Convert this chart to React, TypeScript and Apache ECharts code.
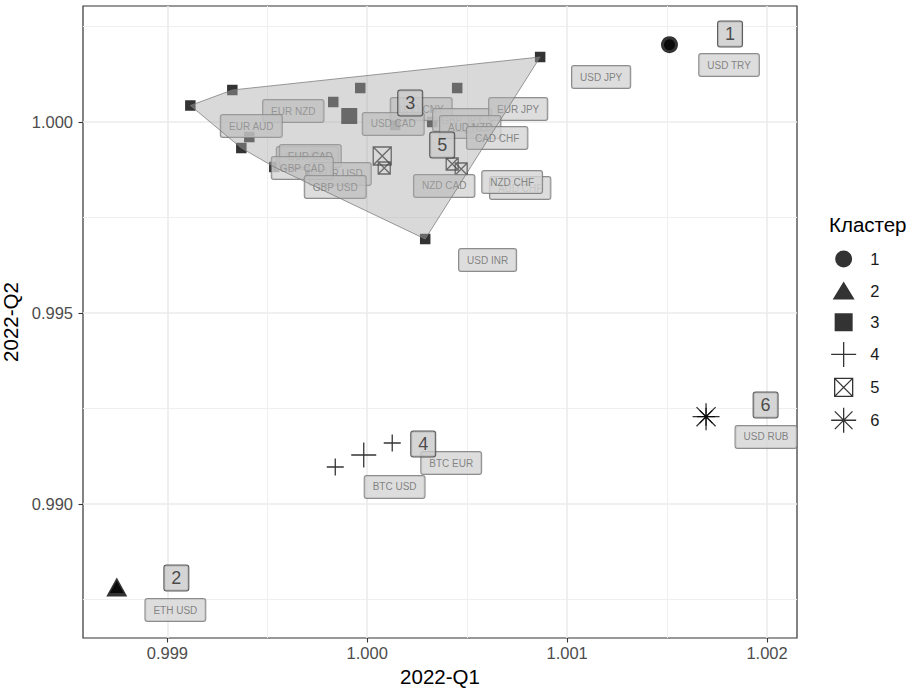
import React, { useEffect, useRef } from "react";
import * as echarts from "echarts";

// ---------- data ----------
const pairs = [
  "USD TRY", "ETH USD", "USD RUB", "BTC USD", "BTC EUR",
  "EUR GBP", "EUR CAD", "EUR USD", "GBP CAD", "GBP USD",
  "EUR NZD", "EUR AUD", "USD CNY", "USD CAD", "GBP JPY",
  "EUR JPY", "AUD NZD", "CAD CHF", "NZD CAD", "AUD CHF",
  "NZD CHF", "USD JPY", "USD INR",
];
const q1 = [
  1.001512, 0.998747, 1.001695, 0.99984, 1.000125,
  0.99937, 0.99974, 1.000085, 0.999535, 0.999715,
  0.99983, 0.99941, 1.000325, 1.00014, 0.999965,
  1.00045, 1.000515, 0.999115, 1.000425, 0.999325,
  1.00047, 1.000865, 1.00029,
];
const q2 = [
  1.002024, 0.987827, 0.992285, 0.990969, 0.991597,
  0.999319, 0.999136, 0.998796, 0.998822, 0.998691,
  1.000524, 0.999607, 1.0, 0.999921, 1.00089,
  1.00089, 0.999843, 1.000432, 0.998901, 1.000838,
  0.99877, 1.001702, 0.996937,
];
const clusterOf = [
  "1", "2", "6", "4", "4",
  "3", "3", "5", "3", "3",
  "3", "3", "3", "3", "3",
  "3", "3", "3", "5", "3",
  "5", "3", "3",
];
// repelled label positions (data units)
const labelQ1 = [
  1.00181, 0.99904, 1.001995, 1.000137, 1.00042,
  0.9997, 0.999715, 0.999865, 0.999675, 0.99984,
  0.99963, 0.99942, 1.00027, 1.00013, 1.000475,
  1.000755, 1.000515, 1.00065, 1.000385, 1.000765,
  1.000725, 1.00117, 1.000602,
];
const labelQ2 = [
  1.001492, 0.987225, 0.991754, 0.990445, 0.991073,
  0.999058, 0.99911, 0.998639, 0.998796, 0.998298,
  1.000288, 0.999895, 1.00034, 0.999948, 1.000052,
  1.00034, 0.999869, 0.999581, 0.998325, 0.998272,
  0.998429, 1.001178, 0.996387,
];

const clusterIds = ["1", "2", "3", "4", "5", "6"];
const centroidQ1 = [1.001512, 0.998747, 0.99991, 0.9999825, 1.000075, 1.001695];
const centroidQ2 = [1.002024, 0.987827, 1.000157, 0.991283, 0.99911, 0.992285];
const centroidLabelQ1 = [1.001815, 0.999045, 1.000215, 1.00028, 1.000375, 1.001993];
const centroidLabelQ2 = [1.002304, 0.988063, 1.000497, 0.991571, 0.999398, 0.992592];

const xRange = [0.998578, 1.00215];
const yRange = [0.986492, 1.003037];
const xTicks = [0.999, 1.0, 1.001, 1.002];
const xMinor = [0.9995, 1.0005, 1.0015];
const yTicks = [0.99, 0.995, 1.0];
const yMinor = [0.9875, 0.9925, 0.9975, 1.0025];

const hullCluster = "3";

// ---------- helpers ----------
const FONT = "'Liberation Sans', Arial, Helvetica, sans-serif";

function convexHull(pts: number[][]): number[][] {
  const p = pts.slice().sort((a, b) => a[0] - b[0] || a[1] - b[1]);
  const cross = (o: number[], a: number[], b: number[]) =>
    (a[0] - o[0]) * (b[1] - o[1]) - (a[1] - o[1]) * (b[0] - o[0]);
  const lower: number[][] = [];
  for (const q of p) {
    while (lower.length >= 2 && cross(lower[lower.length - 2], lower[lower.length - 1], q) <= 0) lower.pop();
    lower.push(q);
  }
  const upper: number[][] = [];
  for (let i = p.length - 1; i >= 0; i--) {
    const q = p[i];
    while (upper.length >= 2 && cross(upper[upper.length - 2], upper[upper.length - 1], q) <= 0) upper.pop();
    upper.push(q);
  }
  upper.pop();
  lower.pop();
  return lower.concat(upper);
}

const PLUS = "path://M0,5L10,5M5,0L5,10";
const BOXX = "path://M0,0L10,0L10,10L0,10ZM0,0L10,10M10,0L0,10";
const STAR = "path://M0,5L10,5M5,0L5,10M1.46,1.46L8.54,8.54M8.54,1.46L1.46,8.54";

const symbols: any[] = ["circle", "triangle", "rect", PLUS, BOXX, STAR];
const pointSizes: any[] = [11, [14, 12], 10.5, 17, 12, 18];
const centroidSizes: any[] = [17, [21, 19], 16, 25, 18, 27];
const filled = { color: "#000", borderWidth: 0 };
const stroked = { color: "transparent", borderColor: "#000", borderWidth: 1.3 };
const itemStyles: any[] = [filled, filled, filled, stroked, stroked, stroked];

const LB = "M0,0L0.01,0M34,25L33.99,25";
const legendIcons = [
  `path://${LB}M4,12.5A8.5,8.5,0,1,1,21,12.5A8.5,8.5,0,1,1,4,12.5Z`,
  `path://${LB}M12.5,3.5L23.5,21.5L1.5,21.5Z`,
  `path://${LB}M3.5,3.5L21.5,3.5L21.5,21.5L3.5,21.5Z`,
  `path://${LB}M0,12.5L25,12.5M12.5,0L12.5,25`,
  `path://${LB}M3.5,3.5L21.5,3.5L21.5,21.5L3.5,21.5ZM3.5,3.5L21.5,21.5M21.5,3.5L3.5,21.5`,
  `path://${LB}M0,12.5L25,12.5M12.5,0L12.5,25M3.66,3.66L21.34,21.34M21.34,3.66L3.66,21.34`,
];

export default function App() {
  const ref = useRef<HTMLDivElement>(null);

  useEffect(() => {
    if (!ref.current) return;
    const chart = echarts.init(ref.current, undefined, { renderer: "svg" });

    const hullPts = convexHull(
      pairs.map((_, i) => [q1[i], q2[i]]).filter((_, i) => clusterOf[i] === hullCluster)
    );

    const clusterSeries = clusterIds.map((cid, ci) => ({
      type: "scatter",
      name: cid,
      z: 2,
      silent: true,
      symbol: symbols[ci],
      symbolSize: pointSizes[ci],
      itemStyle: itemStyles[ci],
      data: [
        ...pairs
          .map((n, i) => (clusterOf[i] === cid ? { name: n, value: [q1[i], q2[i]] } : null))
          .filter(Boolean),
        { name: "centroid " + cid, value: [centroidQ1[ci], centroidQ2[ci]], symbolSize: centroidSizes[ci] },
      ],
    }));

    const option: any = {
      animation: false,
      backgroundColor: "#ffffff",
      textStyle: { fontFamily: FONT },
      title: {
        text: "Кластер",
        left: 829,
        top: 214,
        padding: 0,
        textStyle: { fontSize: 20.5, fontWeight: "normal", color: "#000", fontFamily: FONT },
      },
      legend: {
        orient: "vertical",
        left: 830.5,
        top: 246.5,
        padding: 0,
        itemWidth: 34,
        itemHeight: 25,
        itemGap: 6.6,
        selectedMode: false,
        textStyle: { fontSize: 16.5, color: "#1a1a1a", fontFamily: FONT },
        data: clusterIds.map((cid, ci) => ({
          name: cid,
          icon: legendIcons[ci],
          itemStyle: ci < 3 ? { color: "#000", borderWidth: 0 } : { color: "transparent", borderColor: "#000", borderWidth: 1.3 },
        })),
      },
      grid: {
        left: 83,
        top: 6,
        width: 714,
        height: 632,
        show: true,
        borderColor: "#333",
        borderWidth: 1.2,
        backgroundColor: "transparent",
        outerBoundsMode: "none",
      },
      xAxis: [
        {
          type: "value",
          min: xRange[0],
          max: xRange[1],
          position: "bottom",
          axisLine: { show: false },
          axisTick: { show: true, customValues: xTicks, length: 4.5, lineStyle: { color: "#333", width: 1.1 } },
          axisLabel: {
            customValues: xTicks,
            formatter: (v: number) => v.toFixed(3),
            color: "#4d4d4d",
            fontSize: 16.5,
            margin: 6,
            fontFamily: FONT,
          },
          splitLine: { show: true, lineStyle: { color: "#ebebeb", width: 1.6 } },
          name: "2022-Q1",
          nameLocation: "middle",
          nameGap: 28,
          nameTextStyle: { fontSize: 20.5, color: "#000", fontFamily: FONT },
        },
        {
          type: "value",
          min: xRange[0],
          max: xRange[1],
          position: "bottom",
          axisLine: { show: false },
          axisTick: { show: false, customValues: xMinor },
          axisLabel: { show: false, customValues: xMinor },
          splitLine: { show: true, lineStyle: { color: "#efefef", width: 1 } },
        },
      ],
      yAxis: [
        {
          type: "value",
          min: yRange[0],
          max: yRange[1],
          position: "left",
          axisLine: { show: false },
          axisTick: { show: true, customValues: yTicks, length: 4.5, lineStyle: { color: "#333", width: 1.1 } },
          axisLabel: {
            customValues: yTicks,
            formatter: (v: number) => v.toFixed(3),
            color: "#4d4d4d",
            fontSize: 16.5,
            margin: 10,
            fontFamily: FONT,
          },
          splitLine: { show: true, lineStyle: { color: "#ebebeb", width: 1.6 } },
          name: "2022-Q2",
          nameLocation: "middle",
          nameGap: 52,
          nameTextStyle: { fontSize: 20.5, color: "#000", fontFamily: FONT },
        },
        {
          type: "value",
          min: yRange[0],
          max: yRange[1],
          position: "left",
          axisLine: { show: false },
          axisTick: { show: false, customValues: yMinor },
          axisLabel: { show: false, customValues: yMinor },
          splitLine: { show: true, lineStyle: { color: "#efefef", width: 1 } },
        },
      ],
      series: [
        ...clusterSeries,
        {
          type: "scatter",
          name: "labels",
          z: 3,
          silent: true,
          symbolSize: 0,
          data: pairs.map((n, i) => ({ name: n, value: [labelQ1[i], labelQ2[i]] })),
          label: {
            show: true,
            position: "inside",
            formatter: "{b}",
            fontSize: 10,
            lineHeight: 12,
            color: "#6a6a6a",
            fontFamily: FONT,
            backgroundColor: "#d5d5d5",
            borderColor: "#707070",
            borderWidth: 1,
            borderRadius: 2,
            padding: [5, 8],
          },
        },
        {
          type: "custom",
          name: "hull",
          z: 4,
          silent: true,
          clip: false,
          data: [hullPts[0]],
          renderItem: (_params: any, api: any) => ({
            type: "polygon",
            shape: { points: hullPts.map((h) => api.coord(h)) },
            style: { fill: "rgba(170,170,170,0.45)", stroke: "rgba(120,120,120,0.75)", lineWidth: 1 },
          }),
        },
        {
          type: "scatter",
          name: "cluster ids",
          z: 5,
          silent: true,
          symbolSize: 0,
          data: clusterIds.map((cid, ci) => ({ name: cid, value: [centroidLabelQ1[ci], centroidLabelQ2[ci]] })),
          label: {
            show: true,
            position: "inside",
            formatter: "{b}",
            fontSize: 18,
            lineHeight: 18,
            color: "#262626",
            fontFamily: FONT,
            backgroundColor: "#cbcbcb",
            borderColor: "#333",
            borderWidth: 1,
            borderRadius: 2,
            padding: [3.5, 7],
          },
        },
      ],
    };

    chart.setOption(option);
    return () => chart.dispose();
  }, []);

  return (
    <div
      ref={ref}
      style={{ position: "fixed", left: 0, top: 0, width: 909, height: 691, background: "#fff" }}
    />
  );
}
